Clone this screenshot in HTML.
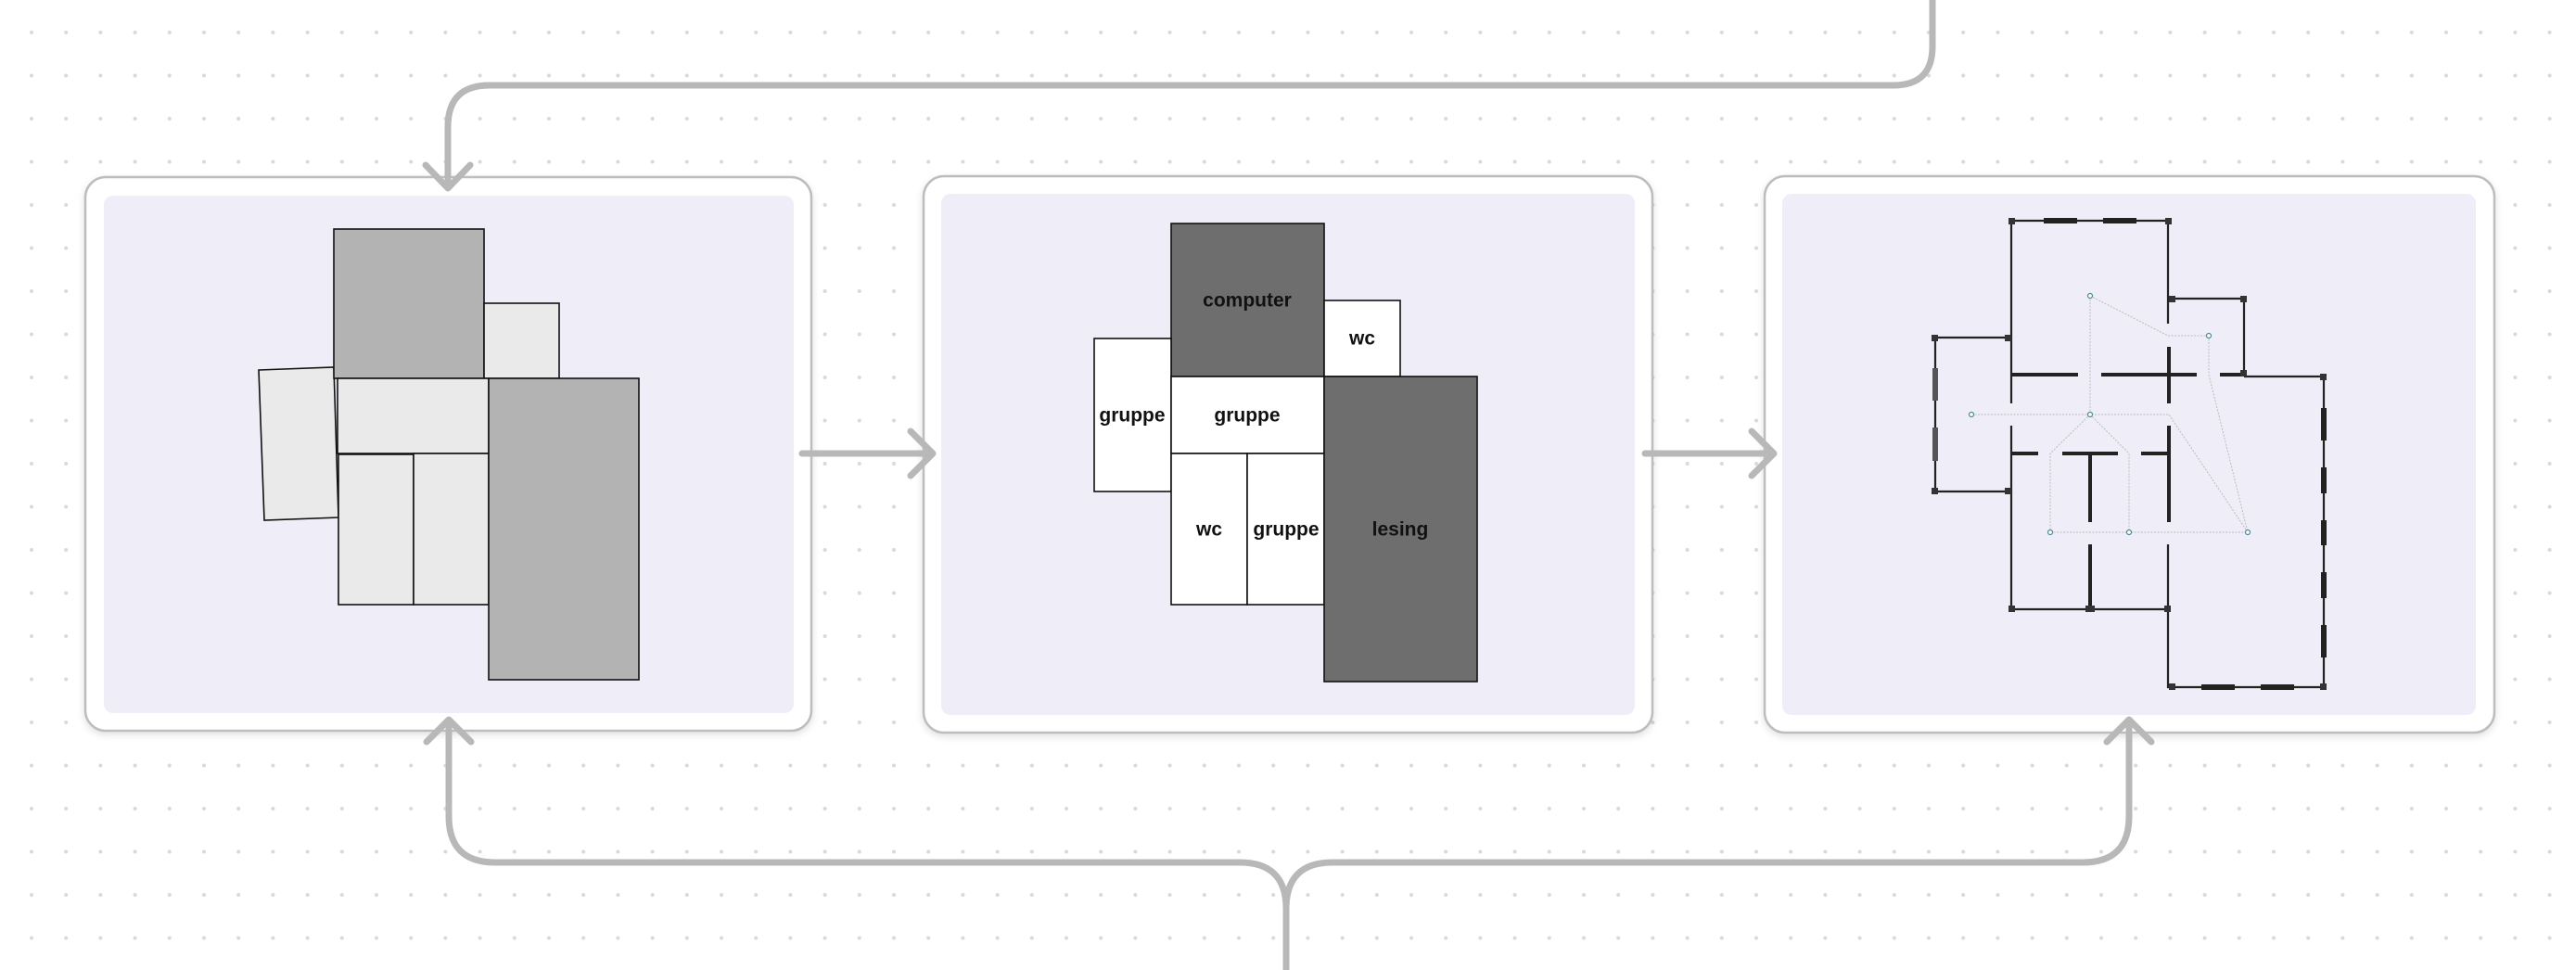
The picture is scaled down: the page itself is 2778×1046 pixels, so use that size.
<!DOCTYPE html>
<html><head><meta charset="utf-8"><style>
html,body{margin:0;padding:0;background:#fff;}
svg{display:block;}
text{font-family:"Liberation Sans",sans-serif;font-weight:bold;font-size:21px;fill:#111;text-anchor:middle;dominant-baseline:central;}
</style></head><body>
<svg width="2778" height="1046" viewBox="0 0 2778 1046" xmlns="http://www.w3.org/2000/svg">
<defs>
<pattern id="dots" x="16" y="12" width="37.2" height="46.5" patternUnits="userSpaceOnUse">
<circle cx="18" cy="23" r="2" fill="#d9d9d9"/>
</pattern>
<filter id="sh" x="-5%" y="-5%" width="110%" height="110%"><feDropShadow dx="0" dy="3" stdDeviation="4" flood-color="#000" flood-opacity="0.12"/></filter>
</defs>
<rect width="2778" height="1046" fill="url(#dots)"/>

<!-- panels -->
<g filter="url(#sh)">
<rect x="92" y="191" width="783" height="597" rx="22" fill="#fff" stroke="#bdbdbd" stroke-width="2.5"/>
<rect x="996" y="190" width="786" height="600" rx="22" fill="#fff" stroke="#bdbdbd" stroke-width="2.5"/>
<rect x="1903" y="190" width="787" height="600" rx="22" fill="#fff" stroke="#bdbdbd" stroke-width="2.5"/>
</g>
<rect x="112" y="211" width="744" height="558" rx="10" fill="#efeef8"/>
<rect x="1015" y="209" width="748" height="562" rx="10" fill="#efeef8"/>
<rect x="1922" y="209" width="748" height="562" rx="10" fill="#efeef8"/>

<!-- connectors -->
<g fill="none" stroke="#b8b8b8" stroke-width="7" stroke-linecap="round" stroke-linejoin="round">
<path d="M2084 0 V50 Q2084 92 2042 92 H528 Q483 92 483 137 V200"/>
<path d="M459 178 L483 203 L507 178"/>
<path d="M865 489 H1004"/>
<path d="M982 465 L1006 489 L982 513"/>
<path d="M1774 489 H1911"/>
<path d="M1889 465 L1913 489 L1889 513"/>
<path d="M1387 1046 V980 Q1387 930 1337 930 H534 Q484 930 484 880 V778"/>
<path d="M1387 980 Q1387 930 1437 930 H2246 Q2296 930 2296 880 V778"/>
<path d="M460 800 L484 776 L508 800"/>
<path d="M2272 800 L2296 776 L2320 800"/>
</g>

<!-- panel 1 -->
<g stroke="#111" stroke-width="1.6">
<polygon points="279,399 360,396 365,558 285,561" fill="#eaeaea"/>
<rect x="360" y="247" width="162" height="161" fill="#b3b3b3"/>
<rect x="522" y="327" width="81" height="81" fill="#eaeaea"/>
<rect x="364" y="408" width="163" height="81" fill="#eaeaea"/>
<rect x="365" y="490" width="81" height="162" fill="#eaeaea"/>
<rect x="446" y="489" width="81" height="163" fill="#eaeaea"/>
<rect x="527" y="408" width="162" height="325" fill="#b3b3b3"/>
</g>

<!-- panel 2 -->
<g stroke="#111" stroke-width="1.6">
<rect x="1263" y="241" width="165" height="165" fill="#6e6e6e"/>
<rect x="1428" y="324" width="82" height="82" fill="#fff"/>
<rect x="1180" y="365" width="83" height="165" fill="#fff"/>
<rect x="1263" y="406" width="165" height="83" fill="#fff"/>
<rect x="1263" y="489" width="82" height="163" fill="#fff"/>
<rect x="1345" y="489" width="83" height="163" fill="#fff"/>
<rect x="1428" y="406" width="165" height="329" fill="#6e6e6e"/>
</g>
<text x="1345" y="324">computer</text>
<text x="1469" y="365">wc</text>
<text x="1221" y="448">gruppe</text>
<text x="1345" y="448">gruppe</text>
<text x="1304" y="571">wc</text>
<text x="1387" y="571">gruppe</text>
<text x="1510" y="571">lesing</text>

<!-- panel 3 floor plan -->
<g stroke="#bbb" stroke-width="1" fill="none" stroke-dasharray="2 1.5">
<path d="M2254 319 L2338 362 H2382"/>
<path d="M2254 319 V447"/>
<path d="M2126 447 H2339 L2424 574"/>
<path d="M2382 362 V404 L2424 574"/>
<path d="M2254 447 L2211 489 V574"/>
<path d="M2254 447 L2296 489 V574"/>
<path d="M2211 574 H2424"/>
</g>
<g fill="#fff" stroke="#4a8a9a" stroke-width="1.2">
<circle cx="2254" cy="319" r="2.5"/><circle cx="2382" cy="362" r="2.5"/><circle cx="2126" cy="447" r="2.5"/><circle cx="2254" cy="447" r="2.5"/><circle cx="2211" cy="574" r="2.5"/><circle cx="2296" cy="574" r="2.5"/><circle cx="2424" cy="574" r="2.5"/>
</g>
<g stroke="#222" stroke-width="2.2" fill="none">
<path d="M2169 238 H2338"/>
<path d="M2169 238 V435 M2169 459 V657 H2338"/>
<path d="M2338 238 V349"/>
<path d="M2165 364 H2087 V530 H2165"/>
<path d="M2342 322 H2420 V403"/>
<path d="M2338 587 V741 H2506 V406 H2420"/>
</g>
<g stroke="#222" stroke-width="4" fill="none">
<path d="M2169 404 H2241 M2266 404 H2369 M2394 404 H2420"/>
<path d="M2339 374 V435 M2339 459 V563"/>
<path d="M2169 489 H2198 M2224 489 H2284 M2309 489 H2338"/>
<path d="M2254 489 V563 M2254 587 V657"/>
</g>
<g fill="#222">
<rect x="2204" y="235" width="36" height="6"/><rect x="2268" y="235" width="36" height="6"/>
<rect x="2374" y="738" width="36" height="6"/><rect x="2438" y="738" width="36" height="6"/>
<rect x="2503" y="440" width="6" height="35"/><rect x="2503" y="504" width="6" height="28"/><rect x="2503" y="561" width="6" height="27"/><rect x="2503" y="617" width="6" height="28"/><rect x="2503" y="674" width="6" height="35"/>
</g>
<g fill="#555">
<rect x="2084" y="397" width="6" height="35"/><rect x="2084" y="461" width="6" height="36"/>
</g>
<g fill="#333">
<rect x="2166" y="235" width="7" height="7"/><rect x="2335" y="235" width="7" height="7"/>
<rect x="2083" y="361" width="7" height="7"/><rect x="2162" y="361" width="7" height="7"/>
<rect x="2083" y="526" width="7" height="7"/><rect x="2162" y="526" width="7" height="7"/>
<rect x="2339" y="319" width="7" height="7"/><rect x="2416" y="319" width="7" height="7"/>
<rect x="2416" y="399" width="7" height="7"/><rect x="2502" y="403" width="7" height="7"/>
<rect x="2166" y="653" width="7" height="7"/><rect x="2249" y="653" width="10" height="7"/><rect x="2334" y="653" width="7" height="7"/>
<rect x="2339" y="737" width="7" height="7"/><rect x="2502" y="737" width="7" height="7"/>
</g>
</svg>
</body></html>
